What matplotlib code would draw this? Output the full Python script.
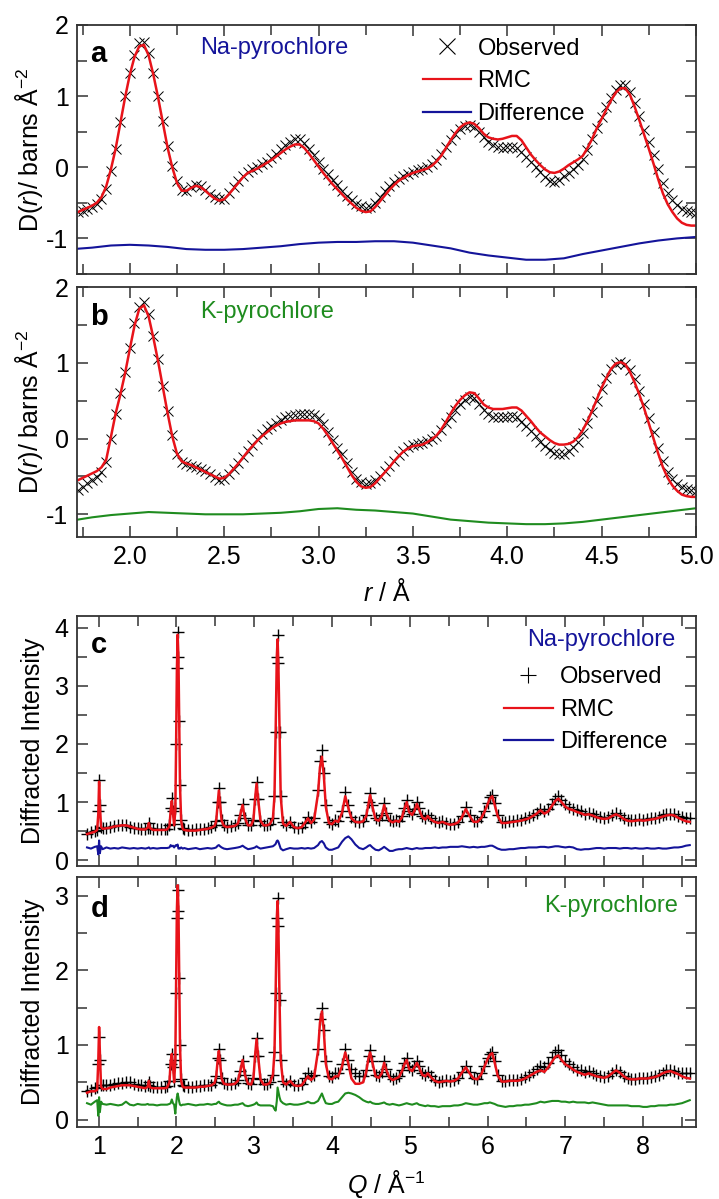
import numpy as np
import matplotlib
matplotlib.use('Agg')
import matplotlib.pyplot as plt
from matplotlib.lines import Line2D
from matplotlib.ticker import MultipleLocator, FormatStrFormatter

plt.rcParams['font.family'] = ['Liberation Sans', 'DejaVu Sans']
plt.rcParams['mathtext.fontset'] = 'custom'
plt.rcParams['mathtext.rm'] = 'Liberation Sans'
plt.rcParams['mathtext.it'] = 'Liberation Sans:italic'
plt.rcParams['axes.unicode_minus'] = False

# ---- D(r) data, panels a and b ----
r_obs = np.round(np.arange(1.725, 5.001, 0.025), 3)
r_diff = np.round(np.arange(1.7, 5.001, 0.1), 2)

obs_a = [-0.63, -0.62, -0.59, -0.56, -0.52, -0.45, -0.30, -0.05,
         0.25, 0.63, 1.00, 1.33, 1.58, 1.74, 1.76, 1.60,
         1.32, 1.00, 0.65, 0.30, 0.02, -0.20, -0.32, -0.34,
         -0.28, -0.25, -0.27, -0.32, -0.38, -0.42, -0.45, -0.44,
         -0.36, -0.28, -0.20, -0.12, -0.06, -0.02, 0.00, 0.04,
         0.08, 0.13, 0.19, 0.25, 0.31, 0.36, 0.40, 0.40,
         0.34, 0.26, 0.17, 0.08, -0.02, -0.10, -0.18, -0.25,
         -0.33, -0.40, -0.46, -0.52, -0.55, -0.57, -0.56, -0.50,
         -0.42, -0.34, -0.27, -0.21, -0.16, -0.12, -0.09, -0.06,
         -0.04, -0.02, 0.00, 0.04, 0.10, 0.18, 0.28, 0.38,
         0.47, 0.54, 0.58, 0.60, 0.57, 0.50, 0.42, 0.36,
         0.31, 0.28, 0.27, 0.28, 0.28, 0.27, 0.22, 0.15,
         0.08, 0.01, -0.07, -0.14, -0.19, -0.21, -0.18, -0.13,
         -0.08, -0.03, 0.03, 0.11, 0.24, 0.39, 0.55, 0.70,
         0.84, 0.98, 1.09, 1.15, 1.15, 1.06, 0.90, 0.72,
         0.53, 0.35, 0.17, -0.03, -0.22, -0.36, -0.46, -0.53,
         -0.58, -0.61, -0.63, -0.64]
rmc_a = [-0.63, -0.60, -0.57, -0.54, -0.50, -0.42, -0.27, -0.03,
         0.26, 0.62, 0.98, 1.30, 1.55, 1.70, 1.72, 1.57,
         1.30, 0.98, 0.63, 0.28, 0.00, -0.22, -0.33, -0.33,
         -0.29, -0.26, -0.28, -0.33, -0.39, -0.44, -0.47, -0.45,
         -0.38, -0.30, -0.22, -0.14, -0.08, -0.05, -0.02, 0.02,
         0.06, 0.10, 0.15, 0.20, 0.25, 0.29, 0.32, 0.32,
         0.27, 0.19, 0.10, 0.01, -0.08, -0.16, -0.24, -0.31,
         -0.38, -0.45, -0.51, -0.57, -0.61, -0.63, -0.62, -0.56,
         -0.48, -0.40, -0.32, -0.25, -0.19, -0.15, -0.11, -0.08,
         -0.06, -0.04, -0.02, 0.02, 0.08, 0.16, 0.27, 0.38,
         0.48, 0.56, 0.61, 0.63, 0.61, 0.55, 0.47, 0.42,
         0.40, 0.39, 0.40, 0.42, 0.44, 0.44, 0.38, 0.28,
         0.18, 0.10, 0.03, -0.03, -0.07, -0.08, -0.06, -0.02,
         0.03, 0.07, 0.11, 0.16, 0.27, 0.40, 0.55, 0.68,
         0.81, 0.94, 1.05, 1.11, 1.11, 1.02, 0.85, 0.66,
         0.46, 0.26, 0.05, -0.17, -0.37, -0.52, -0.63, -0.72,
         -0.78, -0.81, -0.82, -0.82]
diff_a = [-1.15, -1.13, -1.10, -1.09, -1.10, -1.12, -1.15, -1.16, -1.16, -1.15,
          -1.13, -1.11, -1.08, -1.06, -1.05, -1.05, -1.04, -1.04, -1.06, -1.10,
          -1.14, -1.20, -1.24, -1.27, -1.30, -1.30, -1.28, -1.22, -1.17, -1.12,
          -1.07, -1.03, -1.00, -0.98]

obs_b = [-0.68, -0.64, -0.59, -0.55, -0.51, -0.44, -0.31, 0.00,
         0.33, 0.60, 0.88, 1.20, 1.52, 1.74, 1.80, 1.64,
         1.36, 1.05, 0.70, 0.36, 0.05, -0.20, -0.31, -0.34,
         -0.36, -0.38, -0.40, -0.43, -0.47, -0.51, -0.55, -0.53,
         -0.47, -0.40, -0.32, -0.24, -0.16, -0.08, -0.01, 0.06,
         0.12, 0.17, 0.21, 0.25, 0.28, 0.30, 0.31, 0.32,
         0.32, 0.32, 0.31, 0.27, 0.19, 0.09, -0.02, -0.12,
         -0.21, -0.32, -0.44, -0.53, -0.58, -0.60, -0.59, -0.55,
         -0.49, -0.43, -0.36, -0.29, -0.22, -0.16, -0.11, -0.08,
         -0.07, -0.06, -0.03, 0.00, 0.04, 0.11, 0.20, 0.29,
         0.38, 0.45, 0.51, 0.55, 0.53, 0.46, 0.38, 0.32,
         0.29, 0.28, 0.28, 0.29, 0.30, 0.28, 0.22, 0.16,
         0.10, 0.03, -0.04, -0.10, -0.15, -0.19, -0.21, -0.20,
         -0.16, -0.11, -0.04, 0.07, 0.20, 0.35, 0.50, 0.66,
         0.80, 0.92, 0.99, 1.01, 0.98, 0.90, 0.78, 0.63,
         0.46, 0.27, 0.08, -0.12, -0.30, -0.44, -0.54, -0.60,
         -0.64, -0.66, -0.68, -0.69]
rmc_b = [-0.55, -0.52, -0.49, -0.46, -0.43, -0.38, -0.28, 0.02,
         0.33, 0.58, 0.86, 1.18, 1.49, 1.71, 1.76, 1.61,
         1.33, 1.02, 0.68, 0.34, 0.03, -0.20, -0.30, -0.33,
         -0.35, -0.38, -0.41, -0.44, -0.47, -0.50, -0.53, -0.52,
         -0.47, -0.40, -0.33, -0.25, -0.17, -0.10, -0.03, 0.03,
         0.08, 0.13, 0.17, 0.20, 0.22, 0.23, 0.24, 0.24,
         0.24, 0.24, 0.23, 0.20, 0.13, 0.04, -0.06, -0.16,
         -0.26, -0.37, -0.48, -0.57, -0.63, -0.65, -0.64, -0.59,
         -0.52, -0.45, -0.38, -0.30, -0.23, -0.17, -0.13, -0.10,
         -0.09, -0.08, -0.05, -0.01, 0.04, 0.12, 0.22, 0.33,
         0.43, 0.51, 0.57, 0.61, 0.60, 0.53, 0.45, 0.41,
         0.39, 0.39, 0.39, 0.40, 0.41, 0.41, 0.37, 0.30,
         0.23, 0.15, 0.08, 0.03, -0.02, -0.06, -0.08, -0.08,
         -0.07, -0.04, 0.02, 0.11, 0.23, 0.37, 0.52, 0.67,
         0.80, 0.92, 0.99, 1.01, 0.98, 0.88, 0.74, 0.58,
         0.40, 0.20, 0.00, -0.20, -0.38, -0.52, -0.62, -0.69,
         -0.74, -0.76, -0.77, -0.77]
diff_b = [-1.08, -1.04, -1.01, -0.99, -0.97, -0.98, -0.99, -1.00, -1.00, -1.00,
          -0.99, -0.98, -0.96, -0.93, -0.92, -0.94, -0.95, -0.97, -0.99, -1.03,
          -1.07, -1.09, -1.11, -1.12, -1.13, -1.13, -1.12, -1.10, -1.07, -1.04,
          -1.01, -0.98, -0.95, -0.92]

# ---- diffraction data, panels c and d ----
q = [0.85, 0.90, 0.95, 0.98, 0.995, 1.005, 1.015, 1.03, 1.05,
     1.10, 1.15, 1.20, 1.25, 1.30, 1.35, 1.40, 1.45, 1.50, 1.55, 1.60,
     1.63, 1.645, 1.66, 1.70, 1.75, 1.80, 1.85, 1.88,
     1.91, 1.925, 1.94, 1.955, 1.97, 1.985, 1.995, 2.005, 2.015, 2.025, 2.035, 2.045, 2.06, 2.08, 2.10,
     2.15, 2.20, 2.25, 2.30, 2.35, 2.40, 2.45, 2.49,
     2.51, 2.53, 2.545, 2.56, 2.58, 2.61, 2.65, 2.70, 2.75, 2.79,
     2.82, 2.85, 2.88, 2.92, 2.96, 2.99, 3.01, 3.03, 3.05, 3.08,
     3.12, 3.16, 3.20, 3.24, 3.26, 3.275, 3.29, 3.30, 3.31, 3.325, 3.34, 3.37,
     3.41, 3.46, 3.51, 3.56, 3.61, 3.65, 3.69, 3.73, 3.77,
     3.82, 3.845, 3.87, 3.895, 3.92, 3.96, 4.00, 4.04, 4.08, 4.13,
     4.17, 4.21, 4.25, 4.30, 4.35, 4.40, 4.44, 4.47, 4.49, 4.52, 4.56, 4.60, 4.64,
     4.67, 4.70, 4.74, 4.78, 4.82, 4.86, 4.90, 4.93, 4.96, 4.99, 5.03, 5.06,
     5.09, 5.12, 5.16, 5.20, 5.23, 5.27, 5.32, 5.37, 5.42, 5.47, 5.52, 5.57, 5.62, 5.67,
     5.72, 5.77, 5.82, 5.87, 5.92, 5.96, 6.00, 6.03, 6.06, 6.09, 6.13, 6.18,
     6.23, 6.28, 6.33, 6.38, 6.43, 6.48, 6.53, 6.58, 6.63, 6.68, 6.73, 6.78, 6.83, 6.87,
     6.91, 6.95, 7.00, 7.05, 7.10, 7.15, 7.20, 7.25, 7.30, 7.35, 7.40, 7.45, 7.50, 7.55,
     7.60, 7.65, 7.70, 7.75, 7.80, 7.85, 7.90, 7.95, 8.00, 8.05, 8.10, 8.15, 8.20, 8.25,
     8.30, 8.35, 8.40, 8.45, 8.50, 8.55, 8.60]

obs_c = [0.45, 0.48, 0.50, 0.52, 0.85, 1.38, 0.95, 0.58, 0.55,
         0.56, 0.57, 0.59, 0.60, 0.61, 0.60, 0.58, 0.56, 0.55, 0.54, 0.54,
         0.56, 0.64, 0.55, 0.53, 0.53, 0.53, 0.53, 0.54,
         0.60, 0.90, 1.07, 0.85, 0.62, 0.90, 2.00, 3.30, 3.93, 3.50, 2.40, 1.30, 0.70, 0.56, 0.53,
         0.52, 0.52, 0.53, 0.53, 0.54, 0.55, 0.57, 0.60,
         0.68, 1.00, 1.24, 1.00, 0.70, 0.60, 0.58, 0.59, 0.60, 0.64,
         0.78, 0.97, 0.72, 0.60, 0.60, 0.70, 1.05, 1.35, 1.05, 0.68,
         0.61, 0.60, 0.62, 0.72, 1.10, 2.20, 3.50, 3.88, 3.40, 2.20, 1.10, 0.65,
         0.60, 0.66, 0.58, 0.56, 0.58, 0.64, 0.74, 0.66, 0.72,
         1.20, 1.70, 1.90, 1.50, 0.95, 0.66, 0.63, 0.70, 0.68, 0.85,
         1.17, 0.95, 0.75, 0.68, 0.66, 0.68, 0.78, 1.00, 1.15, 0.95, 0.72, 0.70, 0.78,
         0.98, 0.82, 0.70, 0.67, 0.70, 0.68, 0.76, 0.90, 1.03, 0.85, 0.80, 0.88,
         1.00, 0.90, 0.76, 0.72, 0.78, 0.72, 0.68, 0.66, 0.67, 0.64, 0.62, 0.63, 0.66, 0.76,
         0.92, 0.78, 0.68, 0.68, 0.75, 0.85, 0.98, 1.08, 1.12, 0.98, 0.78, 0.66,
         0.66, 0.67, 0.68, 0.69, 0.70, 0.72, 0.74, 0.78, 0.82, 0.88, 0.84, 0.88, 0.96, 1.05,
         1.10, 1.04, 0.96, 0.92, 0.88, 0.86, 0.84, 0.80, 0.82, 0.80, 0.76, 0.74, 0.73, 0.74,
         0.78, 0.81, 0.78, 0.73, 0.70, 0.69, 0.70, 0.71, 0.70, 0.71, 0.72, 0.73, 0.75, 0.77,
         0.79, 0.80, 0.79, 0.76, 0.74, 0.73, 0.73]
rmc_c = [0.45, 0.47, 0.49, 0.52, 0.80, 1.35, 0.95, 0.57, 0.54,
         0.55, 0.56, 0.58, 0.59, 0.60, 0.60, 0.58, 0.56, 0.54, 0.53, 0.53,
         0.56, 0.64, 0.55, 0.52, 0.52, 0.52, 0.52, 0.53,
         0.58, 0.85, 1.02, 0.80, 0.60, 0.85, 1.95, 3.25, 3.88, 3.50, 2.40, 1.30, 0.68, 0.54, 0.52,
         0.51, 0.51, 0.51, 0.52, 0.53, 0.54, 0.56, 0.59,
         0.67, 0.98, 1.20, 0.98, 0.68, 0.59, 0.57, 0.58, 0.59, 0.63,
         0.78, 0.95, 0.72, 0.60, 0.60, 0.70, 1.05, 1.32, 1.05, 0.68,
         0.60, 0.60, 0.62, 0.72, 1.10, 2.20, 3.50, 3.80, 3.40, 2.20, 1.10, 0.63,
         0.59, 0.66, 0.57, 0.55, 0.57, 0.64, 0.72, 0.64, 0.70,
         1.15, 1.60, 1.78, 1.45, 0.92, 0.64, 0.62, 0.68, 0.66, 0.82,
         1.10, 0.90, 0.72, 0.66, 0.65, 0.67, 0.76, 0.98, 1.12, 0.92, 0.70, 0.68, 0.76,
         0.95, 0.80, 0.68, 0.65, 0.68, 0.66, 0.74, 0.88, 1.00, 0.83, 0.78, 0.85,
         0.97, 0.87, 0.74, 0.70, 0.76, 0.70, 0.66, 0.64, 0.66, 0.63, 0.61, 0.62, 0.65, 0.74,
         0.88, 0.76, 0.66, 0.66, 0.73, 0.83, 0.96, 1.06, 1.10, 0.96, 0.76, 0.64,
         0.64, 0.65, 0.66, 0.67, 0.68, 0.70, 0.72, 0.76, 0.80, 0.86, 0.80, 0.84, 0.94, 1.02,
         1.06, 1.00, 0.92, 0.88, 0.86, 0.83, 0.81, 0.78, 0.79, 0.77, 0.74, 0.72, 0.71, 0.72,
         0.76, 0.79, 0.76, 0.71, 0.68, 0.67, 0.68, 0.69, 0.68, 0.69, 0.70, 0.71, 0.73, 0.75,
         0.77, 0.78, 0.77, 0.73, 0.70, 0.67, 0.66]
diff_c = [0.22, 0.20, 0.23, 0.24, 0.10, 0.34, 0.12, 0.24, 0.19,
          0.22, 0.20, 0.21, 0.20, 0.22, 0.21, 0.20, 0.21, 0.20, 0.21, 0.20,
          0.21, 0.22, 0.20, 0.21, 0.20, 0.21, 0.21, 0.21,
          0.22, 0.26, 0.24, 0.25, 0.22, 0.25, 0.26, 0.25, 0.27, 0.20, 0.21, 0.20, 0.22, 0.20, 0.21,
          0.19, 0.20, 0.21, 0.19, 0.20, 0.21, 0.20, 0.21,
          0.22, 0.25, 0.26, 0.24, 0.22, 0.20, 0.19, 0.20, 0.21, 0.22,
          0.23, 0.25, 0.22, 0.19, 0.20, 0.21, 0.22, 0.24, 0.22, 0.20,
          0.21, 0.22, 0.23, 0.24, 0.26, 0.28, 0.33, 0.34, 0.32, 0.26, 0.20, 0.17,
          0.19, 0.21, 0.20, 0.20, 0.21, 0.20, 0.21, 0.20, 0.21,
          0.26, 0.31, 0.33, 0.29, 0.22, 0.18, 0.18, 0.20, 0.22, 0.32,
          0.38, 0.41, 0.36, 0.27, 0.21, 0.19, 0.22, 0.25, 0.26, 0.22, 0.18, 0.17, 0.20,
          0.23, 0.20, 0.16, 0.16, 0.18, 0.19, 0.19, 0.20, 0.21, 0.20, 0.19, 0.20,
          0.21, 0.20, 0.20, 0.21, 0.21, 0.21, 0.22, 0.21, 0.22, 0.22, 0.23, 0.23, 0.23, 0.24,
          0.23, 0.22, 0.23, 0.22, 0.23, 0.23, 0.24, 0.25, 0.25, 0.23, 0.20, 0.18,
          0.18, 0.19, 0.19, 0.20, 0.21, 0.21, 0.22, 0.22, 0.22, 0.23, 0.23, 0.22, 0.23, 0.24,
          0.24, 0.23, 0.22, 0.23, 0.22, 0.19, 0.18, 0.19, 0.19, 0.20, 0.21, 0.21, 0.20, 0.21,
          0.21, 0.21, 0.20, 0.21, 0.21, 0.20, 0.21, 0.20, 0.20, 0.21, 0.20, 0.20, 0.21, 0.20,
          0.20, 0.21, 0.22, 0.22, 0.23, 0.25, 0.26]

obs_d = [0.38, 0.40, 0.42, 0.44, 0.75, 1.11, 0.80, 0.47, 0.46,
         0.46, 0.47, 0.48, 0.49, 0.49, 0.50, 0.50, 0.48, 0.47, 0.46, 0.45,
         0.46, 0.50, 0.45, 0.44, 0.44, 0.44, 0.44, 0.45,
         0.52, 0.75, 0.88, 0.70, 0.52, 0.80, 1.70, 2.70, 3.08, 2.80, 1.90, 1.00, 0.55, 0.46, 0.45,
         0.44, 0.44, 0.45, 0.45, 0.46, 0.46, 0.47, 0.50,
         0.58, 0.82, 0.95, 0.80, 0.56, 0.49, 0.48, 0.48, 0.49, 0.53,
         0.65, 0.79, 0.60, 0.49, 0.48, 0.56, 0.85, 1.10, 0.85, 0.55,
         0.48, 0.48, 0.50, 0.60, 0.90, 1.70, 2.70, 2.97, 2.60, 1.60, 0.80, 0.52,
         0.48, 0.52, 0.47, 0.46, 0.48, 0.56, 0.63, 0.58, 0.60,
         0.95, 1.35, 1.49, 1.20, 0.78, 0.58, 0.57, 0.62, 0.62, 0.75,
         0.95, 0.80, 0.68, 0.62, 0.58, 0.58, 0.66, 0.85, 0.93, 0.78, 0.60, 0.58, 0.64,
         0.78, 0.68, 0.58, 0.54, 0.56, 0.58, 0.66, 0.76, 0.82, 0.70, 0.66, 0.72,
         0.78, 0.72, 0.62, 0.60, 0.64, 0.58, 0.53, 0.50, 0.52, 0.53, 0.52, 0.53, 0.56, 0.64,
         0.72, 0.64, 0.56, 0.55, 0.62, 0.72, 0.82, 0.88, 0.90, 0.78, 0.60, 0.52,
         0.52, 0.53, 0.53, 0.53, 0.54, 0.57, 0.60, 0.64, 0.68, 0.72, 0.70, 0.76, 0.84, 0.90,
         0.93, 0.86, 0.78, 0.74, 0.70, 0.67, 0.66, 0.64, 0.65, 0.62, 0.60, 0.58, 0.57, 0.59,
         0.63, 0.67, 0.64, 0.59, 0.56, 0.55, 0.55, 0.56, 0.56, 0.56, 0.57, 0.58, 0.60, 0.63,
         0.66, 0.66, 0.65, 0.63, 0.63, 0.62, 0.62]
rmc_d = [0.36, 0.38, 0.38, 0.40, 0.80, 1.24, 0.90, 0.44, 0.41,
         0.41, 0.43, 0.44, 0.45, 0.46, 0.46, 0.46, 0.45, 0.44, 0.43, 0.42,
         0.44, 0.52, 0.43, 0.42, 0.42, 0.42, 0.42, 0.43,
         0.50, 0.78, 0.88, 0.72, 0.50, 0.80, 1.75, 2.80, 3.14, 2.85, 1.95, 1.00, 0.52, 0.44, 0.43,
         0.43, 0.43, 0.43, 0.44, 0.44, 0.45, 0.46, 0.49,
         0.57, 0.80, 0.92, 0.78, 0.55, 0.48, 0.47, 0.47, 0.48, 0.52,
         0.65, 0.80, 0.60, 0.48, 0.47, 0.56, 0.85, 1.08, 0.85, 0.54,
         0.47, 0.47, 0.49, 0.60, 0.90, 1.70, 2.70, 2.93, 2.60, 1.60, 0.80, 0.50,
         0.47, 0.52, 0.46, 0.45, 0.46, 0.52, 0.58, 0.53, 0.57,
         0.92, 1.30, 1.45, 1.18, 0.75, 0.55, 0.54, 0.58, 0.58, 0.72,
         0.90, 0.75, 0.55, 0.48, 0.48, 0.50, 0.64, 0.83, 0.90, 0.76, 0.58, 0.56, 0.62,
         0.76, 0.66, 0.56, 0.53, 0.55, 0.57, 0.65, 0.74, 0.80, 0.68, 0.65, 0.70,
         0.76, 0.70, 0.60, 0.58, 0.62, 0.57, 0.52, 0.50, 0.51, 0.52, 0.51, 0.52, 0.55, 0.63,
         0.70, 0.62, 0.55, 0.54, 0.61, 0.71, 0.81, 0.87, 0.89, 0.77, 0.59, 0.51,
         0.51, 0.52, 0.52, 0.52, 0.53, 0.55, 0.58, 0.61, 0.64, 0.66, 0.64, 0.70, 0.78, 0.84,
         0.86, 0.80, 0.74, 0.71, 0.67, 0.64, 0.62, 0.60, 0.62, 0.60, 0.58, 0.57, 0.56, 0.58,
         0.62, 0.66, 0.63, 0.58, 0.55, 0.54, 0.54, 0.55, 0.55, 0.55, 0.56, 0.57, 0.59, 0.62,
         0.64, 0.65, 0.63, 0.61, 0.58, 0.56, 0.55]
diff_d = [0.22, 0.20, 0.24, 0.26, 0.05, 0.30, 0.10, 0.24, 0.21,
          0.20, 0.21, 0.20, 0.19, 0.20, 0.24, 0.20, 0.19, 0.21, 0.20, 0.20,
          0.21, 0.20, 0.20, 0.20, 0.19, 0.20, 0.20, 0.20,
          0.21, 0.22, 0.27, 0.22, 0.20, 0.08, 0.20, 0.30, 0.35, 0.30, 0.24, 0.20, 0.19, 0.20, 0.20,
          0.21, 0.20, 0.19, 0.20, 0.20, 0.21, 0.20, 0.21,
          0.21, 0.23, 0.24, 0.22, 0.21, 0.20, 0.19, 0.19, 0.20, 0.20,
          0.21, 0.22, 0.19, 0.18, 0.19, 0.20, 0.21, 0.23, 0.20, 0.19,
          0.19, 0.19, 0.19, 0.18, 0.14, 0.12, 0.25, 0.43, 0.38, 0.30, 0.25, 0.22,
          0.20, 0.21, 0.20, 0.20, 0.21, 0.22, 0.24, 0.22, 0.22,
          0.25, 0.30, 0.35, 0.28, 0.22, 0.21, 0.21, 0.23, 0.24, 0.30,
          0.35, 0.36, 0.35, 0.33, 0.30, 0.26, 0.24, 0.23, 0.24, 0.22, 0.21, 0.21, 0.22,
          0.23, 0.21, 0.20, 0.21, 0.20, 0.19, 0.20, 0.21, 0.22, 0.21, 0.20, 0.21,
          0.22, 0.20, 0.19, 0.18, 0.19, 0.18, 0.18, 0.17, 0.18, 0.18, 0.18, 0.19, 0.19, 0.20,
          0.22, 0.21, 0.20, 0.20, 0.21, 0.22, 0.22, 0.23, 0.22, 0.21, 0.19, 0.18,
          0.17, 0.18, 0.18, 0.19, 0.19, 0.20, 0.20, 0.21, 0.22, 0.24, 0.23, 0.24, 0.25, 0.25,
          0.25, 0.24, 0.24, 0.23, 0.24, 0.23, 0.23, 0.23, 0.22, 0.23, 0.22, 0.21, 0.20, 0.19,
          0.19, 0.19, 0.19, 0.19, 0.19, 0.18, 0.18, 0.18, 0.17, 0.17, 0.18, 0.18, 0.19, 0.19,
          0.19, 0.20, 0.20, 0.21, 0.22, 0.24, 0.26]

RED = '#e8131a'
BLUE = '#14149a'
GREEN = '#1f8c1f'
AXC = '#333333'
FS = 18

fig = plt.figure(figsize=(7.19, 11.99), dpi=100)
ax_a = fig.add_axes([0.107, 0.7715, 0.861, 0.2077])
ax_b = fig.add_axes([0.107, 0.5521, 0.861, 0.2085])
ax_c = fig.add_axes([0.107, 0.2777, 0.861, 0.2085])
ax_d = fig.add_axes([0.107, 0.0600, 0.861, 0.2085])


def style(ax, xmaj, xmin, ymaj, ymin):
    ax.xaxis.set_major_locator(MultipleLocator(xmaj))
    ax.xaxis.set_minor_locator(MultipleLocator(xmin))
    ax.yaxis.set_major_locator(MultipleLocator(ymaj))
    ax.yaxis.set_minor_locator(MultipleLocator(ymin))
    ax.tick_params(which='both', direction='in', top=True, right=True,
                   color=AXC, width=1.1, labelsize=FS)
    ax.tick_params(which='major', length=8, pad=6)
    ax.tick_params(which='minor', length=7)
    for s in ax.spines.values():
        s.set_color(AXC)
        s.set_linewidth(1.3)


# panel a
ax_a.plot(r_obs, obs_a, ls='none', marker='x', ms=7, mew=0.7, color='k')
ax_a.plot(r_obs, rmc_a, color=RED, lw=1.8)
ax_a.plot(r_diff, diff_a, color=BLUE, lw=1.5)
ax_a.set_xlim(1.72, 5.0)
ax_a.set_ylim(-1.5, 2.0)
style(ax_a, 0.5, 0.25, 1, 0.5)
ax_a.tick_params(labelbottom=False)
ax_a.set_ylabel(r'D($r$)/ barns Å$^{-2}$', fontsize=FS)
ax_a.text(0.022, 0.85, 'a', transform=ax_a.transAxes, fontsize=21, fontweight='bold')
ax_a.text(0.199, 0.908, 'Na-pyrochlore', transform=ax_a.transAxes, fontsize=17,
          color=BLUE, va='center')
h_a = [Line2D([], [], ls='none', marker='x', ms=11, mew=0.8, color='k'),
       Line2D([], [], color=RED, lw=1.6),
       Line2D([], [], color=BLUE, lw=1.6)]
ax_a.legend(h_a, ['Observed', 'RMC', 'Difference'], loc='upper left',
            bbox_to_anchor=(0.529, 1.025), frameon=False, fontsize=17,
            handlelength=2.0, handletextpad=0.3, labelspacing=0.45, borderpad=0.3)

# panel b
ax_b.plot(r_obs, obs_b, ls='none', marker='x', ms=7, mew=0.7, color='k')
ax_b.plot(r_obs, rmc_b, color=RED, lw=1.8)
ax_b.plot(r_diff, diff_b, color=GREEN, lw=1.5)
ax_b.set_xlim(1.72, 5.0)
ax_b.set_ylim(-1.3, 2.0)
style(ax_b, 0.5, 0.25, 1, 0.5)
ax_b.xaxis.set_major_formatter(FormatStrFormatter('%.1f'))
ax_b.set_ylabel(r'D($r$)/ barns Å$^{-2}$', fontsize=FS)
ax_b.set_xlabel(r'$r$ / Å', fontsize=FS, labelpad=7)
ax_b.text(0.022, 0.85, 'b', transform=ax_b.transAxes, fontsize=21, fontweight='bold')
ax_b.text(0.199, 0.9, 'K-pyrochlore', transform=ax_b.transAxes, fontsize=17,
          color=GREEN, va='center')

# panel c
ax_c.plot(q, obs_c, ls='none', marker='+', ms=8, mew=1.0, color='k')
ax_c.plot(q, rmc_c, color=RED, lw=1.8)
ax_c.plot(q, diff_c, color=BLUE, lw=1.5)
ax_c.set_xlim(0.72, 8.68)
ax_c.set_ylim(-0.1, 4.2)
style(ax_c, 1, 0.5, 1, 0.5)
ax_c.tick_params(labelbottom=False)
ax_c.set_ylabel('Diffracted Intensity', fontsize=FS)
ax_c.text(0.022, 0.852, 'c', transform=ax_c.transAxes, fontsize=21, fontweight='bold')
ax_c.text(0.966, 0.904, 'Na-pyrochlore', transform=ax_c.transAxes, fontsize=17,
          color=BLUE, va='center', ha='right')
h_c = [Line2D([], [], ls='none', marker='+', ms=11, mew=0.8, color='k'),
       Line2D([], [], color=RED, lw=1.6),
       Line2D([], [], color=BLUE, lw=1.6)]
ax_c.legend(h_c, ['Observed', 'RMC', 'Difference'], loc='upper right',
            bbox_to_anchor=(0.985, 0.875), frameon=False, fontsize=17,
            handlelength=2.1, handletextpad=0.3, labelspacing=0.45, borderpad=0.3)

# panel d
ax_d.plot(q, obs_d, ls='none', marker='+', ms=8, mew=1.0, color='k')
ax_d.plot(q, rmc_d, color=RED, lw=1.8)
ax_d.plot(q, diff_d, color=GREEN, lw=1.5)
ax_d.set_xlim(0.72, 8.68)
ax_d.set_ylim(-0.1, 3.25)
style(ax_d, 1, 0.5, 1, 0.5)
ax_d.set_ylabel('Diffracted Intensity', fontsize=FS)
ax_d.set_xlabel(r'$Q$ / Å$^{-1}$', fontsize=FS, labelpad=6)
ax_d.text(0.022, 0.84, 'd', transform=ax_d.transAxes, fontsize=21, fontweight='bold')
ax_d.text(0.971, 0.884, 'K-pyrochlore', transform=ax_d.transAxes, fontsize=17,
          color=GREEN, va='center', ha='right')

for ax in (ax_a, ax_b, ax_c, ax_d):
    ax.yaxis.set_label_coords(-0.052, 0.5)

fig.savefig('out.png', dpi=100)
